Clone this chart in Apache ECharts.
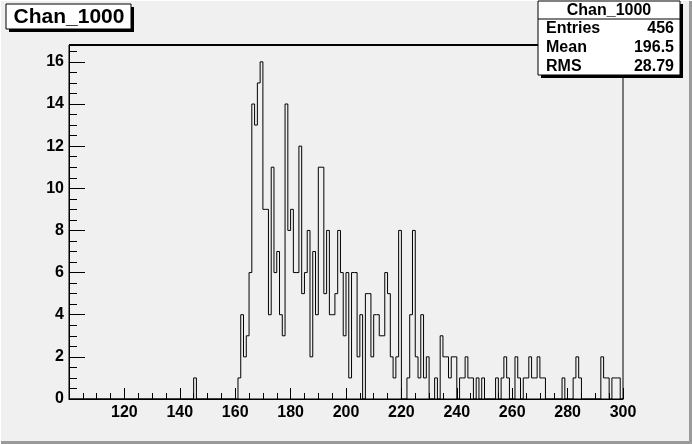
<!DOCTYPE html>
<html><head><meta charset="utf-8">
<script src="https://cdn.jsdelivr.net/npm/echarts@6/dist/echarts.min.js"></script>
<style>html,body{margin:0;padding:0;background:#f0f0f0}#c{width:692px;height:444px}</style>
</head><body><div id="c"></div>
<script>
// ---- data ----
const histTitle = 'Chan_1000';
const xMin = 100, xMax = 300, yMax = 16.8;
const xTickStep = 20, yTickStep = 2;
// lower edges of non-empty bins (bin width 1) and their counts
const binLow = [145,
  161,162,163,164,165,166,167,168,169,
  170,171,172,173,174,175,176,177,178,179,
  180,181,182,183,184,185,186,187,188,189,
  190,191,192,193,194,195,196,197,198,199,
  200,201,202,203,204,205,207,208,209,
  210,211,212,213,214,215,216,217,218,219,
  222,223,224,225,226,227,228,229,
  232,234,235,236,237,238,239,241,242,243,244,245,247,249,
  254,256,257,258,261,262,264,265,266,267,268,269,270,271,
  278,282,283,284,292,293,294,296,297,298];
const binCount = [1,
  1,4,2,3,6,14,13,15,16,
  9,9,4,11,6,7,4,3,14,8,
  9,6,6,12,5,6,8,2,7,4,
  11,11,5,8,4,4,5,8,6,3,
  6,1,6,6,2,4,5,5,2,
  4,4,3,3,6,5,2,1,2,8,
  1,4,8,2,1,4,1,2,
  1,3,2,2,1,2,2,1,1,2,1,1,1,1,
  1,1,2,1,2,1,1,1,2,1,1,2,1,1,
  1,1,2,1,2,1,1,1,1,1];
const statNames = ['Entries', 'Mean', 'RMS'];
const statValues = ['456', '196.5', '28.79'];

// ---- build histogram outline ----
const nBins = xMax - xMin;
const counts = new Array(nBins).fill(0);
binLow.forEach((b, i) => { counts[b - xMin] = binCount[i]; });
const outline = [];
for (let i = 0; i < nBins; i++) outline.push([xMin + i, counts[i]]);
outline.push([xMax, 0]);

const FONT = '"Liberation Sans", Arial, Helvetica, sans-serif';
const chart = echarts.init(document.getElementById('c'), null, {renderer: 'canvas'});

const statsX = 538, statsY = 1, statsW = 142, statsH = 74, headH = 18;
const rowH = (statsH - headH) / statNames.length;
const statGraphics = [];
statNames.forEach((n, i) => {
  const cy = statsY + headH + rowH * (i + 0.5) + 0.5;
  statGraphics.push({type: 'text', x: statsX + 8, y: cy, style: {text: n, font: 'bold 16px ' + FONT, fill: '#000', textVerticalAlign: 'middle', textAlign: 'left'}, z: 102});
  statGraphics.push({type: 'text', x: statsX + statsW - 6, y: cy, style: {text: statValues[i], font: 'bold 16px ' + FONT, fill: '#000', textVerticalAlign: 'middle', textAlign: 'right'}, z: 102});
});

chart.setOption({
  animation: false,
  backgroundColor: '#f0f0f0',
  grid: {left: 69, right: 69, top: 45, bottom: 45, show: true, borderColor: '#000', borderWidth: 1, backgroundColor: 'transparent'},
  xAxis: {
    type: 'value', min: xMin, max: xMax, interval: xTickStep,
    axisLine: {lineStyle: {color: '#000', width: 1}},
    axisTick: {inside: true, length: 11, lineStyle: {color: '#000'}},
    minorTick: {show: true, splitNumber: 4, length: 6, lineStyle: {color: '#000'}},
    splitLine: {show: false},
    axisLabel: {showMinLabel: false, color: '#000', fontSize: 16, fontWeight: 'bold', fontFamily: FONT, margin: 6}
  },
  yAxis: {
    type: 'value', min: 0, max: yMax, interval: yTickStep,
    axisLine: {show: true, lineStyle: {color: '#000', width: 1}},
    axisTick: {inside: true, length: 16, lineStyle: {color: '#000'}},
    minorTick: {show: true, splitNumber: 4, length: 8, lineStyle: {color: '#000'}},
    splitLine: {show: false},
    axisLabel: {showMaxLabel: false, color: '#000', fontSize: 16, fontWeight: 'bold', fontFamily: FONT, margin: 5}
  },
  series: [{
    type: 'line', step: 'end', data: outline, symbol: 'none', showSymbol: false,
    lineStyle: {color: '#000', width: 1}, clip: true
  }],
  graphic: [
    // thick top frame line
    {type: 'line', shape: {x1: 69, y1: 45, x2: 623, y2: 45}, style: {stroke: '#000', lineWidth: 2}, z: 50},
    // canvas bevel
    {type: 'rect', shape: {x: 0, y: 441, width: 692, height: 3}, style: {fill: '#9a9a9a'}, z: 1},
    {type: 'rect', shape: {x: 689, y: 0, width: 3, height: 444}, style: {fill: '#9a9a9a'}, z: 1},
    {type: 'rect', shape: {x: 0, y: 0, width: 692, height: 1}, style: {fill: '#ffffff'}, z: 1},
    {type: 'rect', shape: {x: 0, y: 0, width: 1, height: 444}, style: {fill: '#ffffff'}, z: 1},
    // title box
    {type: 'rect', shape: {x: 9, y: 7, width: 125, height: 25}, style: {fill: '#000'}, z: 100},
    {type: 'rect', shape: {x: 6, y: 4, width: 125, height: 25}, style: {fill: '#ffffff', stroke: '#000', lineWidth: 1}, z: 101},
    {type: 'text', x: 69, y: 17.5, style: {text: histTitle, font: 'bold 21px ' + FONT, fill: '#000', textAlign: 'center', textVerticalAlign: 'middle'}, z: 102},
    // stats box
    {type: 'rect', shape: {x: statsX + 3, y: statsY + 3, width: statsW, height: statsH}, style: {fill: '#000'}, z: 100},
    {type: 'rect', shape: {x: statsX, y: statsY, width: statsW, height: statsH}, style: {fill: '#ffffff', stroke: '#000', lineWidth: 1}, z: 101},
    {type: 'line', shape: {x1: statsX, y1: statsY + headH, x2: statsX + statsW, y2: statsY + headH}, style: {stroke: '#000', lineWidth: 1}, z: 102},
    {type: 'text', x: statsX + statsW / 2, y: statsY + headH / 2 + 1, style: {text: histTitle, font: 'bold 16px ' + FONT, fill: '#000', textAlign: 'center', textVerticalAlign: 'middle'}, z: 102}
  ].concat(statGraphics)
});
</script></body></html>
